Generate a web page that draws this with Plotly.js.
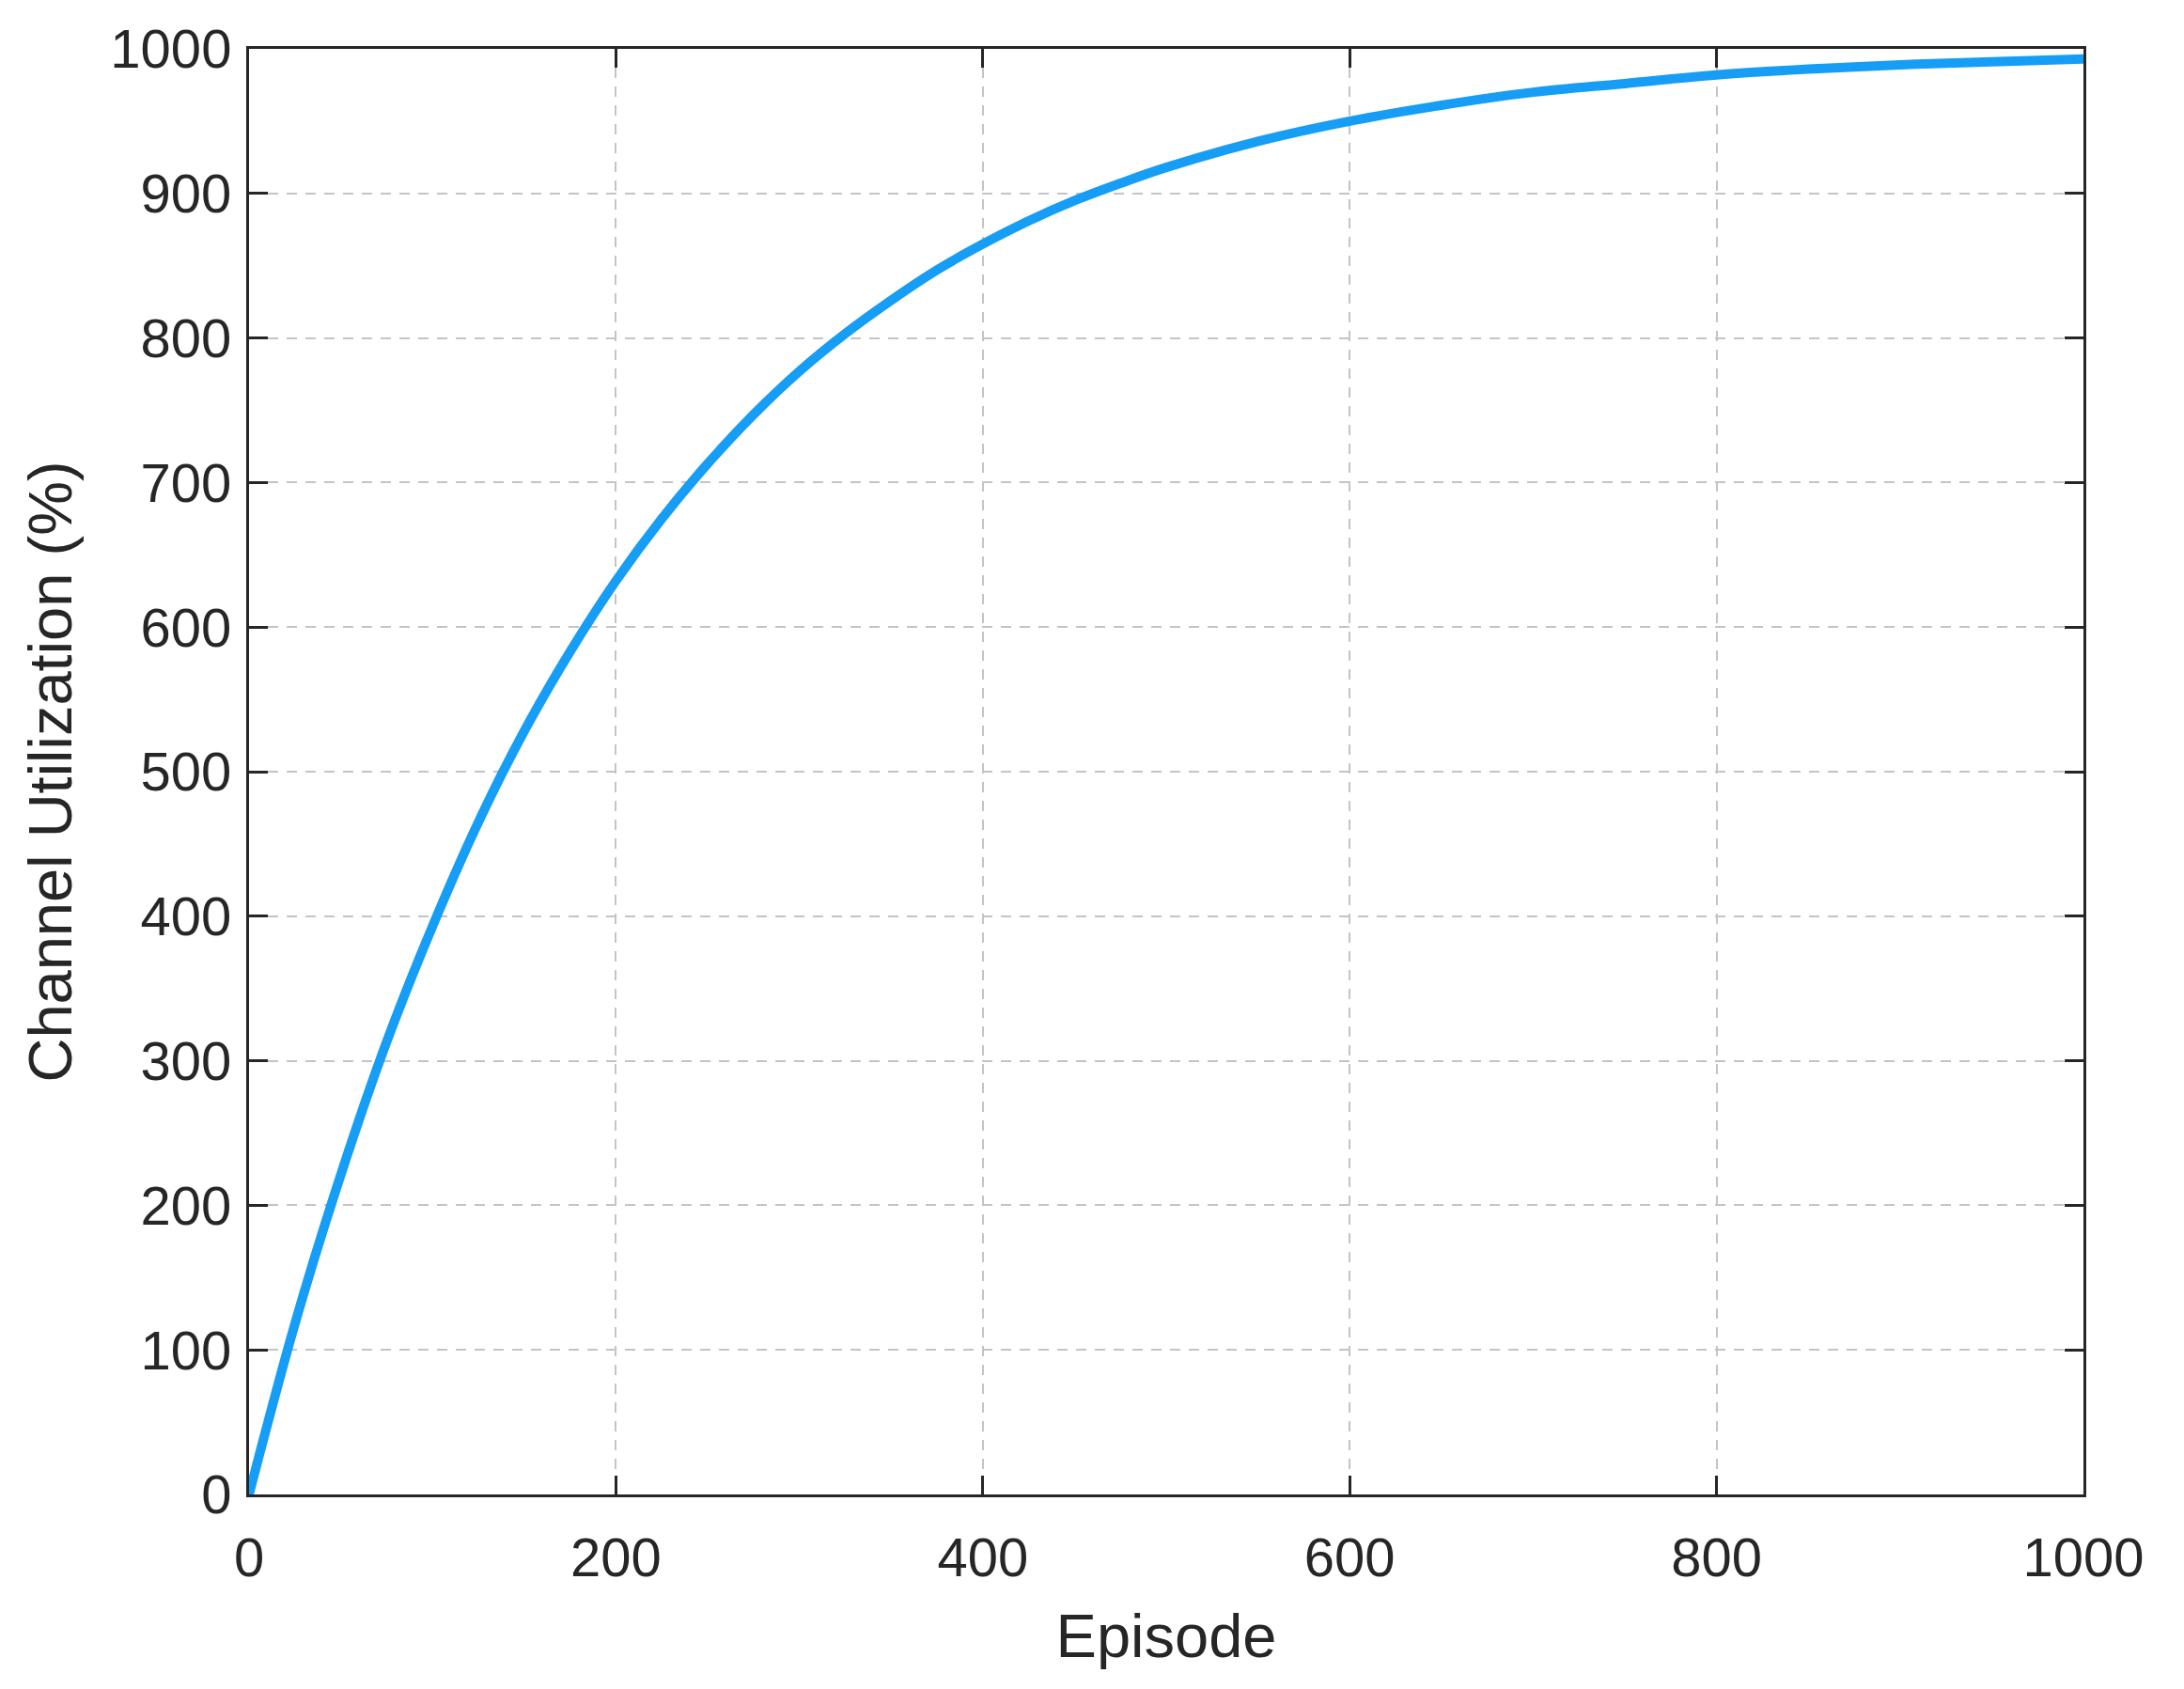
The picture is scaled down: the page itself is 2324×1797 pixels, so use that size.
<!DOCTYPE html>
<html>
<head>
    <title>Channel Utilization</title>
    <style>
        html, body, #plot {
            height: 100%;
            width: 100%;
            margin: 0;
            padding: 0;
            overflow: hidden;
            background: #ffffff;
        }
    </style>
    <script src="https://cdn.plot.ly/plotly-3.0.1.min.js"></script>
</head>
<body>
<div id="plot"></div>
<script>
    // values
    const episodes = [0, 25, 50, 75, 100, 125, 150, 175, 200, 225, 250, 275, 300, 325, 350, 375, 400,
        425, 450, 475, 500, 550, 600, 650, 700, 750, 800, 850, 900, 950, 1000];
    const utilization = [0, 118, 221, 313, 393, 465, 528, 583, 632, 675, 713, 747, 777, 803, 826, 847, 865,
        881, 895, 907, 918, 936, 950, 961, 970, 976, 982, 986, 989, 991, 993];
    const xTicks = [0, 200, 400, 600, 800, 1000];
    const yTicks = [0, 100, 200, 300, 400, 500, 600, 700, 800, 900, 1000];

    const axisColor = '#262626';
    const fontFamily = 'Liberation Sans, Arial, sans-serif';

    const trace = {
        x: episodes,
        y: utilization,
        type: 'scatter',
        mode: 'lines',
        line: {color: '#169df5', width: 10, shape: 'spline', smoothing: 1},
        hoverinfo: 'x+y'
    };

    const commonAxis = {
        showline: true,
        linecolor: axisColor,
        linewidth: 3,
        mirror: 'ticks',
        ticks: 'inside',
        ticklen: 20,
        tickwidth: 3,
        tickcolor: axisColor,
        showgrid: true,
        gridcolor: '#c4c4c4',
        gridwidth: 2,
        griddash: '11px,9px',
        zeroline: false,
        tickfont: {family: fontFamily, size: 58, color: axisColor}
    };

    const layout = {
        width: 2324,
        height: 1797,
        paper_bgcolor: '#ffffff',
        plot_bgcolor: '#ffffff',
        showlegend: false,
        margin: {l: 265, r: 107, t: 52, b: 207, pad: 0},
        xaxis: Object.assign({}, commonAxis, {
            range: [0, 1000],
            tickvals: xTicks,
            ticklabelstandoff: 14,
            title: {text: 'Episode', font: {family: fontFamily, size: 65, color: axisColor}, standoff: 30}
        }),
        yaxis: Object.assign({}, commonAxis, {
            range: [0, 1000],
            tickvals: yTicks,
            ticklabelstandoff: 4,
            title: {text: 'Channel Utilization (%)', font: {family: fontFamily, size: 65, color: axisColor}, standoff: 20}
        })
    };

    Plotly.newPlot('plot', [trace], layout, {displayModeBar: false});
</script>
</body>
</html>
